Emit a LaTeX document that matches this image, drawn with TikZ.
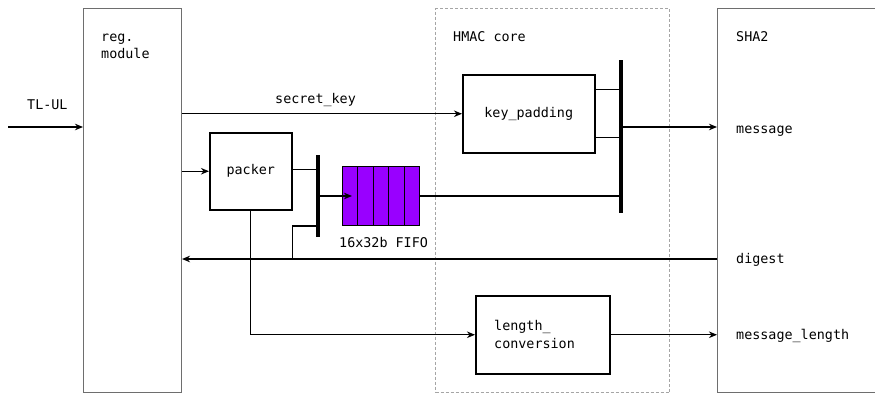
\documentclass[tikz,border=0pt]{standalone}
\usepackage{fontspec}
\setmonofont{DejaVu Sans Mono}
\usepackage{tikz}
\usetikzlibrary{calc}
\usetikzlibrary{arrows.meta}
\usetikzlibrary{positioning}
\usepackage{color}
\definecolor{fifopurple}{RGB}{153, 0, 255}
\definecolor{framegray}{RGB}{110, 110, 110}
\definecolor{coregray}{RGB}{165, 165, 165}
\tikzset{
    txt/.style={font=\ttfamily\fontsize{13.4}{17}\selectfont},
    lbl/.style={txt, anchor=base west, inner sep=0pt},
    blk/.style={txt, draw=black, line width=1.5pt, anchor=north west, inner sep=0pt},
    outer/.style={draw=framegray, line width=1pt, anchor=north west, inner sep=0pt},
    wire/.style={line width=1.3pt},
    arr/.style={wire, -{Stealth[length=8pt, width=6.5pt, inset=2.5pt]}},
    bus/.style={fill=black, inner sep=0pt, minimum width=3.5pt, anchor=north},
}

\begin{document}
\begin{tikzpicture}[x=1pt, y=-1pt]
            \useasboundingbox (0,0) rectangle (875,394);
            % Register module
            \node[outer, minimum width=98, minimum height=384]               (reg)    at ( 83,  8) {};
            \node[lbl]                                                        (regA)   at (101, 41) {reg.};
            \node[lbl]                                                        (regB)   at (101, 58) {module};
            % HMAC core
            \node[outer, draw=coregray, dash pattern=on 3pt off 2pt,
                  minimum width=234, minimum height=384]                      (hmac)   at (435,  8) {};
            \node[lbl]                                                        (hmacT)  at (453, 41) {HMAC core};
            % SHA2 (runs off the right edge)
            \node[anchor=north west, inner sep=0pt,
                  minimum width=158, minimum height=384]                      (sha)    at (717,  8) {};
            \draw[framegray, line width=1pt] (sha.north east) -- (sha.north west) -- (sha.south west) -- (sha.south east);
            \node[lbl]                                                        (shaT)   at (736, 41) {SHA2};
            \node[lbl]                                                        (msgT)   at (736,133) {message};
            \node[lbl]                                                        (digT)   at (736,263) {digest};
            \node[lbl]                                                        (mlenT)  at (736,339) {message\_length};
            % Blocks
            \node[blk, minimum width=82,  minimum height=77]                 (packer) at (209,132) {packer};
            \node[blk, minimum width=132, minimum height=78]                 (kpad)   at (462, 74) {key\_padding};
            \node[blk, minimum width=134, minimum height=78]                 (lconv)  at (475,295) {};
            \node[lbl]                                                        (lconvA) at (494,330) {length\_};
            \node[lbl]                                                        (lconvB) at (494,348) {conversion};
            % FIFO
            \node[draw=black, fill=fifopurple, line width=1pt, anchor=north west,
                  minimum width=77, minimum height=59]                        (fifo)   at (342,166) {};
            \foreach \i in {1,...,4}
                \draw[line width=1pt] ($(fifo.north west)!\i/5!(fifo.north east)$) -- ($(fifo.south west)!\i/5!(fifo.south east)$);
            \node[lbl]                                                        (fifoT)  at (339,247) {16x32b FIFO};
            % Buses
            \node[bus, minimum height=82]                                     (bus1)   at (318,155) {};
            \node[bus, minimum height=153]                                    (bus2)   at (621, 60) {};
            % Ports
            \coordinate (tlul) at (  8,127);
            \coordinate (msg)  at (717,127);
            \coordinate (dig)  at (717,259);
            \coordinate (tap)  at (dig -| packer.east);
            % TL-UL input
            \draw[arr] (tlul) -- (tlul -| reg.west);
            \node[lbl] (tlulT) at (27,109) {TL-UL};
            % secret key
            \draw[arr] (reg.east |- kpad.west) -- (kpad.west);
            \node[lbl] (keyT) at (275,103) {secret\_key};
            % message path
            \draw[arr]  (reg.east |- packer.west) -- (packer.west);
            \draw[wire] ([yshift=2]packer.east) -- ([yshift=2]packer.east -| bus1.west);
            \draw[arr]  (bus1.east |- fifo.west) -- ([xshift=10]fifo.west);
            \draw[wire] (fifo.east) -- (fifo.east -| bus2.west);
            \foreach \dy in {24,-24}
                \draw[wire] ([yshift=\dy]kpad.east) -- ([yshift=\dy]kpad.east -| bus2.west);
            \draw[arr]  (bus2.east |- msg) -- (msg);
            % digest back
            \draw[arr]  (dig) -- (dig -| reg.east);
            \draw[wire] (tap) |- (bus1.west |- fifo.south);
            % length
            \draw[arr]  (packer.south) |- (lconv.west);
            \draw[arr]  (lconv.east) -- (lconv.east -| sha.west);
\end{tikzpicture}
\end{document}
